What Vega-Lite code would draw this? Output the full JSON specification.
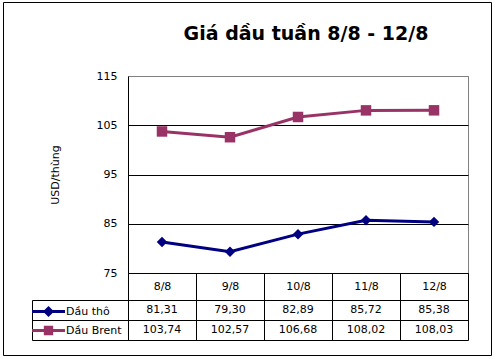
{
  "$schema": "https://vega.github.io/schema/vega-lite/v6.json",
  "width": 340,
  "height": 197,
  "autosize": "none",
  "padding": {"left": 128, "top": 76, "right": 29, "bottom": 86},
  "background": "white",
  "title": {
    "text": "Giá dầu tuần 8/8 - 12/8",
    "font": "DejaVu Sans",
    "fontSize": 19,
    "fontWeight": "bold",
    "color": "black",
    "anchor": "middle",
    "baseline": "alphabetic",
    "dx": 8,
    "offset": -57
  },
  "data": {
    "values": [
      {"day": "8/8", "series": "Dầu thô", "price": 81.31},
      {"day": "9/8", "series": "Dầu thô", "price": 79.30},
      {"day": "10/8", "series": "Dầu thô", "price": 82.89},
      {"day": "11/8", "series": "Dầu thô", "price": 85.72},
      {"day": "12/8", "series": "Dầu thô", "price": 85.38},
      {"day": "8/8", "series": "Dầu Brent", "price": 103.74},
      {"day": "9/8", "series": "Dầu Brent", "price": 102.57},
      {"day": "10/8", "series": "Dầu Brent", "price": 106.68},
      {"day": "11/8", "series": "Dầu Brent", "price": 108.02},
      {"day": "12/8", "series": "Dầu Brent", "price": 108.03}
    ]
  },
  "layer": [
    {
      "data": {"values": [{"frame": "chart"}]},
      "mark": {"type": "rect", "fill": null, "stroke": "black", "strokeWidth": 1},
      "encoding": {
        "x": {"datum": 0, "type": "quantitative", "scale": {"domain": [0, 1], "range": [-124.5, 363.5]}, "axis": null},
        "x2": {"datum": 1},
        "y": {"datum": 0, "type": "quantitative", "scale": {"domain": [0, 1], "range": [-73.5, 279.5]}, "axis": null},
        "y2": {"datum": 1}
      }
    },
    {
      "mark": {"type": "line", "strokeWidth": 3},
      "encoding": {
        "x": {
          "field": "day", "type": "nominal", "sort": null,
          "scale": {"type": "band", "domain": ["8/8", "9/8", "10/8", "11/8", "12/8"], "paddingInner": 0, "paddingOuter": 0},
          "axis": {
            "title": null, "labelAngle": 0, "domainColor": "black", "ticks": true,
            "tickBand": "extent", "tickSize": 67, "tickColor": "black",
            "labelBaseline": "middle", "labelPadding": -54,
            "labelFontSize": 11, "labelFont": "DejaVu Sans", "labelColor": "black", "grid": false
          }
        },
        "y": {
          "field": "price", "type": "quantitative",
          "scale": {"domain": [75, 115], "nice": false, "zero": false},
          "axis": {
            "title": "USD/thùng", "titleFont": "DejaVu Sans", "titleFontSize": 11, "titleFontWeight": "normal",
            "titleColor": "black", "titlePadding": 36,
            "values": [75, 85, 95, 105, 115], "ticks": false, "labelPadding": 11,
            "labelFont": "DejaVu Sans", "labelFontSize": 11, "labelColor": "black",
            "domainColor": "black", "grid": true,
            "gridColor": {"condition": {"test": "datum.value === 115", "value": "#808080"}, "value": "black"}
          }
        },
        "color": {
          "field": "series", "type": "nominal",
          "scale": {"domain": ["Dầu thô", "Dầu Brent"], "range": ["#000080", "#993366"]},
          "legend": null
        }
      }
    },
    {
      "mark": {"type": "point", "filled": true, "opacity": 1, "size": 110},
      "encoding": {
        "x": {
          "field": "day", "type": "nominal", "sort": null,
          "scale": {"type": "band", "domain": ["8/8", "9/8", "10/8", "11/8", "12/8"], "paddingInner": 0, "paddingOuter": 0},
          "axis": null
        },
        "y": {
          "field": "price", "type": "quantitative",
          "scale": {"domain": [75, 115], "nice": false, "zero": false},
          "axis": null
        },
        "color": {
          "field": "series", "type": "nominal",
          "scale": {"domain": ["Dầu thô", "Dầu Brent"], "range": ["#000080", "#993366"]},
          "legend": null
        },
        "shape": {
          "field": "series", "type": "nominal",
          "scale": {"domain": ["Dầu thô", "Dầu Brent"], "range": ["diamond", "square"]},
          "legend": null
        }
      }
    },
    {
      "mark": {"type": "text", "font": "DejaVu Sans", "fontSize": 11, "color": "black"},
      "encoding": {
        "x": {
          "field": "day", "type": "nominal", "sort": null,
          "scale": {"type": "band", "domain": ["8/8", "9/8", "10/8", "11/8", "12/8"], "paddingInner": 0, "paddingOuter": 0},
          "axis": null
        },
        "y": {
          "field": "series", "type": "nominal",
          "scale": {"type": "band", "domain": ["Dầu thô", "Dầu Brent"], "range": [224, 264], "paddingInner": 0, "paddingOuter": 0},
          "axis": {
            "orient": "left", "offset": 96, "title": null, "labels": false,
            "domainColor": "black", "ticks": true, "tickBand": "extent", "tickSize": -436,
            "tickColor": "black", "grid": false
          }
        },
        "text": {"field": "price", "type": "quantitative", "format": ".2f"}
      }
    },
    {
      "mark": {"type": "point", "filled": true, "opacity": 0, "size": 289},
      "encoding": {
        "x": {
          "field": "day", "type": "nominal", "sort": null,
          "scale": {"type": "band", "domain": ["8/8", "9/8", "10/8", "11/8", "12/8"], "paddingInner": 0, "paddingOuter": 0},
          "axis": null
        },
        "y": {
          "field": "series", "type": "nominal",
          "scale": {"type": "band", "domain": ["Dầu thô", "Dầu Brent"], "range": [224, 264], "paddingInner": 0, "paddingOuter": 0},
          "axis": null
        },
        "color": {
          "field": "series", "type": "nominal",
          "scale": {"domain": ["Dầu thô", "Dầu Brent"], "range": ["#000080", "#993366"]},
          "legend": {
            "orient": "none", "legendX": -88, "legendY": 227, "title": null,
            "symbolSize": 289, "labelOffset": 9, "rowPadding": 4, "padding": 0,
            "labelFont": "DejaVu Sans", "labelFontSize": 11, "labelColor": "black",
            "symbolStrokeWidth": 0, "symbolOpacity": 1
          }
        },
        "shape": {
          "field": "series", "type": "nominal",
          "scale": {
            "domain": ["Dầu thô", "Dầu Brent"],
            "range": [
              "M-1.94,-0.18H1.94V0.18H-1.94ZM0,-0.65L0.65,0L0,0.65L-0.65,0Z",
              "M-1.94,-0.18H1.94V0.18H-1.94ZM-0.55,-0.55H0.55V0.55H-0.55Z"
            ]
          },
          "legend": {
            "orient": "none", "legendX": -88, "legendY": 227, "title": null,
            "symbolSize": 289, "labelOffset": 9, "rowPadding": 4, "padding": 0,
            "labelFont": "DejaVu Sans", "labelFontSize": 11, "labelColor": "black",
            "symbolStrokeWidth": 0, "symbolOpacity": 1
          }
        }
      }
    }
  ],
  "resolve": {
    "scale": {"x": "independent", "y": "independent", "shape": "independent", "color": "independent"},
    "axis": {"x": "independent", "y": "independent"},
    "legend": {"color": "independent", "shape": "independent"}
  },
  "config": {
    "view": {"stroke": "#808080", "strokeWidth": 1},
    "locale": {"number": {"decimal": ",", "thousands": ".", "grouping": [3], "currency": ["", ""]}}
  }
}
